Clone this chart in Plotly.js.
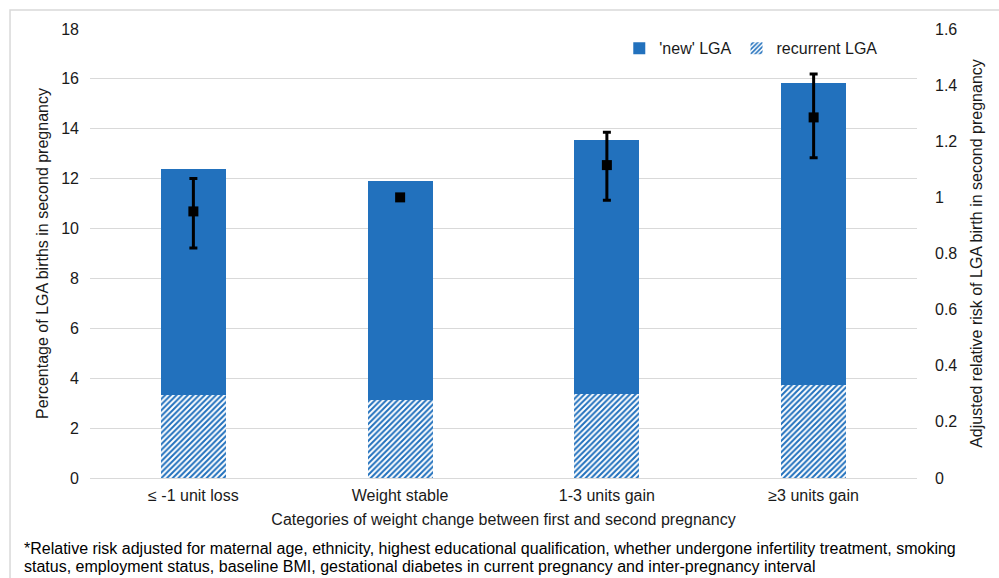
<!DOCTYPE html>
<html>
<head>
<meta charset="utf-8">
<script src="https://cdn.plot.ly/plotly-3.0.1.min.js"></script>
<style>
  html, body { margin: 0; padding: 0; background: #ffffff; }
  #chart { width: 999px; height: 578px; }
</style>
</head>
<body>
<div id="chart"></div>
<script>
// Weight-change categories between first and second pregnancy
const categories = ['≤ -1 unit loss', 'Weight stable', '1-3 units gain', '≥3 units gain'];

// Percentage of LGA births in second pregnancy, split into recurrent and 'new'
const recurrentLGA = [3.33, 3.13, 3.37, 3.72];
const newLGA = [9.07, 8.77, 10.18, 12.13];

// Adjusted relative risk with 95% CI (weight stable is the reference group)
const relRisk = [0.95, 1.0, 1.115, 1.285];
const ciUpper = [1.067, null, 1.232, 1.44];
const ciLower = [0.82, null, 0.99, 1.141];

const errPlus = relRisk.map((v, i) => ciUpper[i] === null ? 0 : ciUpper[i] - v);
const errMinus = relRisk.map((v, i) => ciLower[i] === null ? 0 : v - ciLower[i]);

const blue = '#2271BD';
const font = 'Liberation Sans, Arial, sans-serif';
const textColor = '#1a1a1a';
const fs = 16;

const traces = [
  {
    type: 'bar',
    name: 'recurrent LGA',
    x: categories,
    y: recurrentLGA,
    width: 0.315,
    legendrank: 2,
    marker: {
      color: '#ffffff',
      line: { width: 0 },
      pattern: { shape: '/', fgcolor: blue, bgcolor: '#ffffff', size: 4, solidity: 0.5 }
    },
    hoverinfo: 'skip'
  },
  {
    type: 'bar',
    name: "'new' LGA",
    x: categories,
    y: newLGA,
    width: 0.315,
    legendrank: 1,
    marker: { color: blue, line: { width: 0 } },
    hoverinfo: 'skip'
  },
  {
    type: 'scatter',
    mode: 'markers',
    name: 'Adjusted relative risk',
    x: categories,
    y: relRisk,
    yaxis: 'y2',
    showlegend: false,
    marker: { symbol: 'square', size: 10, color: '#000000' },
    error_y: {
      type: 'data',
      symmetric: false,
      array: errPlus,
      arrayminus: errMinus,
      color: '#000000',
      thickness: 3,
      width: 4
    },
    hoverinfo: 'skip'
  }
];

const layout = {
  width: 999,
  height: 578,
  margin: { l: 90, r: 82, t: 29, b: 100 },
  paper_bgcolor: '#ffffff',
  plot_bgcolor: '#ffffff',
  barmode: 'stack',
  font: { family: font, size: fs, color: textColor },
  showlegend: true,
  legend: {
    orientation: 'h',
    traceorder: 'normal',
    x: 0.64,
    xanchor: 'left',
    y: 0.995,
    yanchor: 'top',
    bgcolor: 'rgba(0,0,0,0)',
    font: { family: font, size: fs, color: textColor }
  },
  xaxis: {
    type: 'category',
    range: [-0.5, 3.5],
    showgrid: false,
    showline: false,
    zeroline: false,
    ticks: '',
    ticklabelstandoff: 6,
    tickfont: { family: font, size: fs, color: textColor },
    title: {
      text: 'Categories of weight change between first and second pregnancy',
      font: { family: font, size: fs, color: textColor },
      standoff: 10
    }
  },
  yaxis: {
    range: [0, 18],
    dtick: 2,
    showgrid: true,
    gridcolor: '#d9d9d9',
    gridwidth: 1,
    zeroline: true,
    zerolinecolor: '#d9d9d9',
    zerolinewidth: 1,
    showline: false,
    ticks: '',
    ticklabelstandoff: 10,
    tickfont: { family: font, size: fs, color: textColor },
    title: {
      text: 'Percentage of LGA births in second pregnancy',
      font: { family: font, size: fs, color: textColor },
      standoff: 8
    }
  },
  yaxis2: {
    overlaying: 'y',
    side: 'right',
    range: [0, 1.6],
    dtick: 0.2,
    showgrid: false,
    zeroline: false,
    showline: false,
    ticks: '',
    ticklabelstandoff: 17,
    tickfont: { family: font, size: fs, color: textColor },
    title: {
      text: 'Adjusted relative risk of LGA birth in second pregnancy',
      font: { family: font, size: fs, color: textColor },
      standoff: 14
    }
  },
  shapes: [
    {
      type: 'rect',
      xref: 'paper',
      yref: 'paper',
      x0: -0.0967,
      x1: 1.3,
      y0: -0.5,
      y1: 1.0423,
      line: { color: '#d9d9d9', width: 1.5 },
      fillcolor: 'rgba(0,0,0,0)',
      layer: 'below'
    }
  ],
  annotations: [
    {
      xref: 'paper', yref: 'paper',
      x: -0.0822, y: -0.158,
      xanchor: 'left', yanchor: 'middle',
      showarrow: false,
      align: 'left',
      text: '*Relative risk adjusted for maternal age, ethnicity, highest educational qualification, whether undergone infertility treatment, smoking',
      font: { family: font, size: fs, color: '#000000' }
    },
    {
      xref: 'paper', yref: 'paper',
      x: -0.0822, y: -0.198,
      xanchor: 'left', yanchor: 'middle',
      showarrow: false,
      align: 'left',
      text: 'status, employment status, baseline BMI, gestational diabetes in current pregnancy and inter-pregnancy interval',
      font: { family: font, size: fs, color: '#000000' }
    }
  ]
};

Plotly.newPlot('chart', traces, layout, { displayModeBar: false, staticPlot: true });
</script>
</body>
</html>
